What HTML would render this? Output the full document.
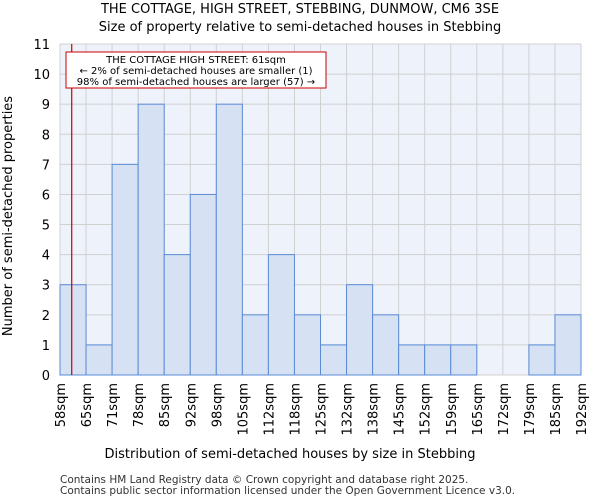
<!DOCTYPE html>
<html><head><meta charset="utf-8"><style>
body{margin:0;background:#fff;font-family:"DejaVu Sans","Liberation Sans",sans-serif}
</style></head><body>
<svg width="600" height="500" xmlns="http://www.w3.org/2000/svg" font-family="DejaVu Sans, Liberation Sans, sans-serif">
<text x="300" y="13" text-anchor="middle" font-size="13">THE COTTAGE, HIGH STREET, STEBBING, DUNMOW, CM6 3SE</text>
<text x="300" y="31" text-anchor="middle" font-size="13">Size of property relative to semi-detached houses in Stebbing</text>
<rect x="60" y="44" width="521" height="331" fill="#eef2fb"/>
<g id="grid"></g><g id="bars"></g><g id="axes"></g>
<text x="290" y="458" text-anchor="middle" font-size="13">Distribution of semi-detached houses by size in Stebbing</text>
<text transform="translate(12,216) rotate(-90)" text-anchor="middle" font-size="13">Number of semi-detached properties</text>
<text x="60" y="483" font-size="10.5" fill="#333">Contains HM Land Registry data © Crown copyright and database right 2025.</text>
<text x="60" y="494" font-size="10.5" fill="#333">Contains public sector information licensed under the Open Government Licence v3.0.</text>
<line id="marker" stroke="#cc0000" stroke-width="1.2"/>
<g>
<rect x="66" y="52" width="260" height="36" fill="#fff" stroke="#cc0000" stroke-width="1"/>
<text x="196" y="63" text-anchor="middle" font-size="10">THE COTTAGE HIGH STREET: 61sqm</text>
<text x="196" y="74" text-anchor="middle" font-size="10">← 2% of semi-detached houses are smaller (1)</text>
<text x="196" y="85" text-anchor="middle" font-size="10">98% of semi-detached houses are larger (57) →</text>
</g>
</svg>
<script>
const binLabels=["58sqm","65sqm","71sqm","78sqm","85sqm","92sqm","98sqm","105sqm","112sqm","118sqm","125sqm","132sqm","138sqm","145sqm","152sqm","159sqm","165sqm","172sqm","179sqm","185sqm","192sqm"];
const counts=[3,1,7,9,4,6,9,2,4,2,1,3,2,1,1,1,0,0,1,2];
const yTicks=[0,1,2,3,4,5,6,7,8,9,10,11];
const propertyIndexPos=0.45;
const X0=60,X1=581,Y0=375,Y1=44,yMax=11;
const bw=(X1-X0)/counts.length;
const xs=i=>X0+i*bw;
const ys=v=>Y0-(v/yMax)*(Y0-Y1);
const NS="http://www.w3.org/2000/svg";
function mk(t,a,p){const e=document.createElementNS(NS,t);for(const k in a)e.setAttribute(k,a[k]);p.appendChild(e);return e;}
const grid=document.getElementById('grid'),bars=document.getElementById('bars'),axes=document.getElementById('axes');
yTicks.forEach(v=>{
 const l=mk('line',{x1:X0,x2:X1,y1:ys(v),y2:ys(v),stroke:'#d0d0d0'},grid);
 
 
 const t=mk('text',{x:X0-10,y:ys(v)+5,'text-anchor':'end','font-size':13},axes);
 t.textContent=v;
 
 
});
binLabels.forEach((s,i)=>{
 const l=mk('line',{x1:xs(i),x2:xs(i),y1:Y1,y2:Y0,stroke:'#d0d0d0'},grid);
 
 
 const t=mk('text',{transform:`translate(${xs(i)+5},${Y0+8}) rotate(-90)`,'text-anchor':'end','font-size':13},axes);
 t.textContent=s;
 
 
});
counts.forEach((c,i)=>{
 if(c<=0)return;
 const r=mk('rect',{x:xs(i),y:ys(c),width:bw,height:Y0-ys(c),fill:'#d6e1f4',stroke:'#5a8bd6','stroke-width':1},bars);
 
 
});
const m=document.getElementById('marker');
const mx=X0+propertyIndexPos*bw;
m.setAttribute('x1',mx);m.setAttribute('x2',mx);m.setAttribute('y1',Y1);m.setAttribute('y2',Y0);
</script>
</body></html>
